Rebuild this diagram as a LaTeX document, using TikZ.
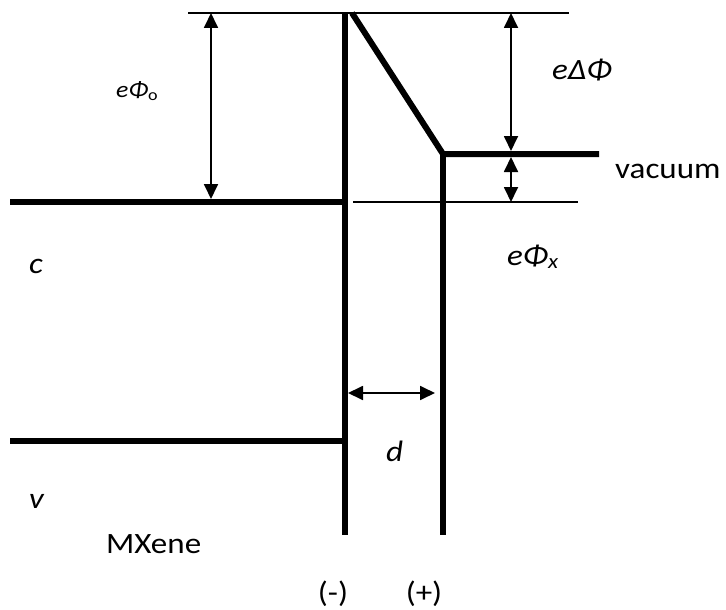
\documentclass[tikz,border=0pt]{standalone}
\usepackage{fontspec}
\setmainfont{Carlito}[FakeStretch=1.12]
\usetikzlibrary{arrows.meta, positioning}

\begin{document}
\begin{tikzpicture}[
  x=1pt, y=-1pt,
  level/.style={line width=6pt, line join=miter},
  guide/.style={line width=1.4pt},
  gap/.style={{Triangle[length=15pt,width=14pt]}-{Triangle[length=15pt,width=14pt]}, line width=1.8pt},
  lbl/.style={font=\fontsize{29.5}{34}\selectfont, inner sep=0pt, anchor=base west},
  smalllbl/.style={font=\fontsize{23}{27}\selectfont, inner sep=0pt, anchor=base west}
]
  \useasboundingbox (0,0) rectangle (726,610);

  % Reference levels
  \coordinate (topL) at (188,13);
  \coordinate (topR) at (569,13);
  \coordinate (fermiL) at (353,202);
  \coordinate (fermiR) at (578,202);
  \draw[guide] (topL)--(topR);
  \draw[guide] (fermiL)--(fermiR);

  % MXene bands and surface
  \coordinate (wallA) at (345,13);
  \coordinate (wallAb) at (345,535);
  \coordinate (cL) at (10,202);
  \coordinate (cR) at (345,202);
  \coordinate (vL) at (10,441);
  \coordinate (vR) at (345,441);
  \draw[level] (wallA)--(wallAb);
  \draw[level] (cL)--(cR);
  \draw[level] (vL)--(vR);

  % Dipole layer and vacuum
  \coordinate (slopeTop) at (352,13);
  \coordinate (kink) at (443,154);
  \coordinate (vacR) at (599,154);
  \coordinate (wallBb) at (443,535);
  \draw[level] (slopeTop)--(kink)--(vacR);
  \draw[level] (kink)--(wallBb);

  % Arrows
  \coordinate (phiTop) at (211,13);
  \coordinate (phiBot) at (211,199);
  \coordinate (dphiTop) at (511,13);
  \coordinate (dphiBot) at (511,151);
  \coordinate (xTop) at (511,157);
  \coordinate (xBot) at (511,202);
  \coordinate (dL) at (348,393);
  \coordinate (dR) at (435,393);
  \draw[gap] (phiTop)--(phiBot);
  \draw[gap] (dphiTop)--(dphiBot);
  \draw[gap] (xTop)--(xBot);
  \draw[gap] (dL)--(dR);

  % Labels
  \node[smalllbl] (phio) at (116,97) {\itshape eΦ\textsubscript{\upshape o}};
  \node[lbl] (dphi) at (552,80) {\itshape eΔΦ};
  \node[lbl] (vac) at (615,178) {vacuum};
  \node[lbl] (phix) at (507,265) {\itshape eΦ\textsubscript{x}};
  \node[lbl] (cband) at (29,273) {\itshape c};
  \node[lbl] (vband) at (29,508) {\itshape v};
  \node[lbl] (d) at (386,461) {\itshape d};
  \node[lbl] (mx) at (106,553) {MXene};
  \node[lbl, anchor=center] (minus) at (333,594) {(-)};
  \node[lbl, anchor=center] (plus) at (424,594) {(+)};
\end{tikzpicture}
\end{document}
